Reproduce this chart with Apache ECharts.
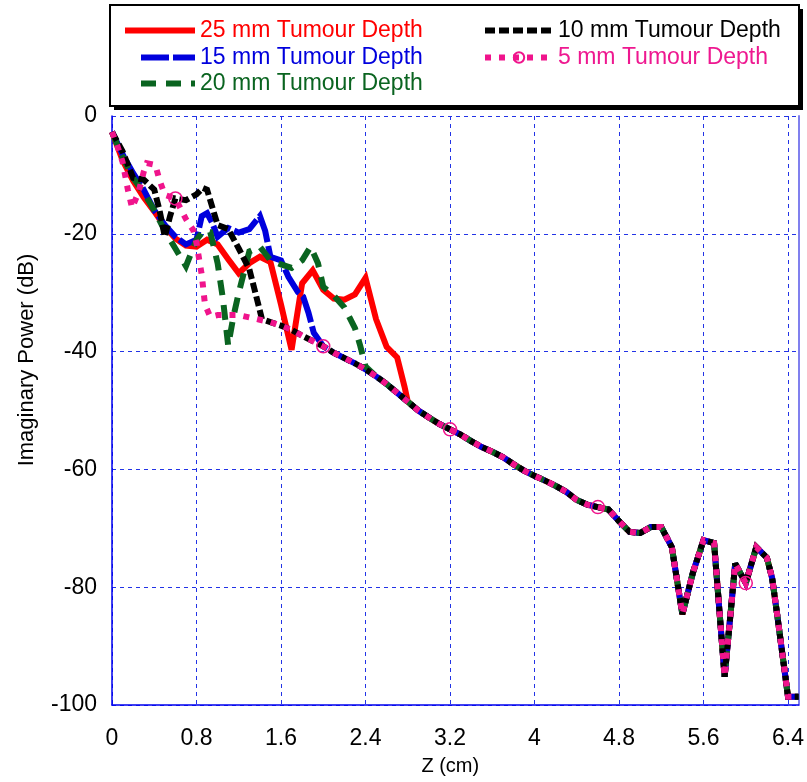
<!DOCTYPE html>
<html><head><meta charset="utf-8">
<script src="https://cdn.jsdelivr.net/npm/echarts@6/dist/echarts.min.js"></script>
<style>html,body{margin:0;padding:0;background:#fff}#c{width:807px;height:782px}</style>
</head><body><div id="c"></div>
<script>
const FONT = '"Liberation Sans", Arial, sans-serif';
const seriesNames = ['25 mm Tumour Depth', '15 mm Tumour Depth', '20 mm Tumour Depth', '10 mm Tumour Depth', '5 mm Tumour Depth'];
const xTickLabels = ['0', '0.8', '1.6', '2.4', '3.2', '4', '4.8', '5.6', '6.4'];
const yTickLabels = ['-100', '-80', '-60', '-40', '-20', '0'];

// common (converged) curve
const baseZ  = [0.9, 1.0, 1.1, 1.2, 1.3, 1.4, 1.5, 1.6, 1.7, 1.8, 1.9, 2.0, 2.1, 2.2, 2.3, 2.4, 2.5, 2.6, 2.7, 2.8, 2.9, 3.0, 3.1, 3.2, 3.3, 3.4, 3.5, 3.6, 3.7, 3.8, 3.9, 4.0, 4.1, 4.2, 4.3, 4.4, 4.5, 4.6, 4.7, 4.8, 4.9, 5.0, 5.1, 5.2, 5.3, 5.4, 5.5, 5.6, 5.7, 5.8, 5.9, 6.0, 6.1, 6.2, 6.25, 6.3, 6.4, 6.5];
const baseDb = [-34.3, -33.8, -33.8, -33.8, -34.2, -34.6, -35.0, -35.6, -36.3, -37.3, -38.2, -39.1, -40.2, -41.1, -42.0, -43.0, -44.2, -45.5, -47.0, -48.5, -50.0, -51.2, -52.3, -53.2, -54.1, -55.2, -56.2, -57.0, -57.9, -59.1, -60.2, -61.1, -61.9, -62.8, -63.8, -65.2, -66.0, -66.4, -66.8, -68.8, -70.6, -70.8, -69.8, -69.8, -73.2, -84.6, -77.5, -72.0, -72.5, -95.2, -76.0, -79.3, -73.2, -75.0, -78.5, -85.0, -98.6, -98.6];

// individual early parts
const z25  = [0, 0.1, 0.2, 0.3, 0.4, 0.5, 0.6, 0.7, 0.8, 0.9, 1.0, 1.1, 1.2, 1.3, 1.4, 1.5, 1.6, 1.7, 1.8, 1.9, 2.0, 2.1, 2.2, 2.3, 2.4, 2.5, 2.6, 2.7, 2.77];
const db25 = [-2.7, -7.5, -11, -13.8, -16.2, -18.8, -20.8, -22, -22.2, -21, -21.8, -24.3, -26.7, -25, -23.9, -24.8, -32, -39.7, -28.4, -26.2, -29.5, -31, -31.2, -30.3, -27.5, -34.5, -39.2, -41, -46];

const z15  = [0, 0.1, 0.2, 0.3, 0.4, 0.5, 0.6, 0.7, 0.8, 0.85, 0.9, 0.95, 1.0, 1.1, 1.2, 1.3, 1.4, 1.45, 1.5, 1.6, 1.67, 1.76, 1.81, 1.86, 1.91];
const db15 = [-2.7, -6.5, -9.7, -12.5, -16, -18.5, -20.5, -21.8, -21, -17, -16.5, -18.2, -20.5, -19, -19.8, -19.2, -17, -19.5, -23.9, -24.5, -27.3, -29.9, -30.7, -33.4, -36.8];

const z20  = [0, 0.1, 0.2, 0.3, 0.4, 0.5, 0.6, 0.7, 0.8, 0.87, 0.93, 1.0, 1.05, 1.1, 1.15, 1.2, 1.3, 1.4, 1.5, 1.6, 1.7, 1.8, 1.88, 1.95, 2.0, 2.1, 2.2, 2.3, 2.35, 2.4];
const db20 = [-2.7, -7, -10.5, -13, -16, -19.5, -22.5, -25.5, -21, -19.4, -19.7, -25, -31, -39, -34, -30, -23, -22.2, -24.5, -25.2, -25.8, -24.5, -22.2, -25, -29, -30.5, -32.5, -36, -39, -42.5];

const z10  = [0, 0.1, 0.2, 0.3, 0.4, 0.45, 0.5, 0.55, 0.6, 0.7, 0.8, 0.86, 0.9, 0.95, 1.0, 1.1, 1.2, 1.3, 1.35, 1.42];
const db10 = [-2.7, -6, -10.5, -10.8, -12.5, -16, -20.5, -17, -14, -14.3, -13.3, -12.2, -12.5, -15.5, -18.5, -19.2, -22.5, -26, -29.5, -34.5];

const z5   = [0, 0.05, 0.1, 0.15, 0.19, 0.25, 0.3, 0.33, 0.41, 0.45, 0.5, 0.6, 0.7, 0.77, 0.8, 0.85, 0.88, 0.93];
const db5  = [-2.7, -5, -7.8, -12.5, -15.6, -13, -9.5, -8, -8.3, -10.9, -13.4, -14, -17.5, -19.4, -21.6, -27, -32, -34.1];
const markerZ5 = [0.6, 2.0, 3.2, 4.6, 6.0];

function build(hz, hd) {
  const out = [];
  for (let i = 0; i < hz.length; i++) out.push([hz[i], hd[i]]);
  const last = hz[hz.length - 1];
  for (let i = 0; i < baseZ.length; i++) if (baseZ[i] > last + 1e-9) out.push([baseZ[i], baseDb[i]]);
  return out;
}

const colors = ['#ff0000', '#0000dd', '#0a6420', '#000000', '#f0148c'];
const textColors = ['#ff0000', '#0000dd', '#0a6420', '#000000', '#ee1890'];
const dashes = ['solid', [28, 4], [15, 10], [10, 4], [6, 8]];
const widths = [6, 6, 6, 6, 6];

const pinkData = build(z5, db5).map(p => {
  const mk = markerZ5.some(m => Math.abs(m - p[0]) < 1e-6);
  return mk ? { value: p } : { value: p, symbol: 'none' };
});

const dataSets = [build(z25, db25), build(z15, db15), build(z20, db20), build(z10, db10), pinkData];

const series = dataSets.map((d, i) => {
  const s = { name: seriesNames[i], type: 'line', data: d,
    lineStyle: { color: colors[i], width: widths[i], type: dashes[i], cap: 'butt', join: 'miter', miterLimit: 3 } };
  if (i === 4) {
    s.symbol = 'circle'; s.symbolSize = 13; s.showAllSymbol = true;
    s.itemStyle = { color: 'rgba(255,255,255,0)', borderColor: colors[4], borderWidth: 1.5 };
  } else {
    s.symbol = 'none'; s.showSymbol = false;
    s.itemStyle = { color: colors[i] };
  }
  return s;
});

function lg(i, left, top, w) {
  const o = { data: [seriesNames[i]], left: left, top: top, orient: 'horizontal', padding: 0,
    itemWidth: w, itemHeight: 13, selectedMode: false,
    lineStyle: { color: colors[i], width: 6, type: dashes[i], cap: 'butt' },
    textStyle: { color: textColors[i], fontSize: 23, fontFamily: FONT } };
  if (i !== 4) o.itemStyle = { opacity: 0 };
  return o;
}

const chart = echarts.init(document.getElementById('c'), null, { renderer: 'canvas' });
chart.setOption({
  animation: false,
  backgroundColor: '#fff',
  grid: { left: 112, right: 8, top: 116, bottom: 77 },
  legend: [
    lg(0, 122, 19, 70),
    lg(1, 138, 46, 54),
    lg(2, 138, 72, 54),
    lg(3, 482, 19, 68),
    lg(4, 482, 46, 68)
  ],
  graphic: [
    { type: 'rect', z: 0, shape: { x: 114, y: 9, width: 689, height: 101 }, style: { fill: '#000' } },
    { type: 'rect', z: 1, shape: { x: 110, y: 5, width: 689, height: 101 },
      style: { fill: '#fff', stroke: '#000', lineWidth: 2 } },
    { type: 'text', x: 27, y: 360, rotation: Math.PI / 2,
      style: { text: 'Imaginary Power (dB)', fontSize: 22, fontFamily: FONT, fill: '#000', align: 'center', verticalAlign: 'middle' } }
  ],
  xAxis: {
    type: 'value', min: 0, max: 6.5, interval: 0.8,
    name: 'Z (cm)', nameLocation: 'middle', nameGap: 51,
    nameTextStyle: { fontSize: 20, fontFamily: FONT, color: '#000', padding: [0, 10, 0, 0] },
    axisLine: { show: true, onZero: false, lineStyle: { color: '#0000ee', width: 1.5 } },
    axisTick: { show: false },
    axisLabel: { showMaxLabel: false, fontSize: 23, fontFamily: FONT, color: '#000', margin: 22,
      formatter: v => xTickLabels[Math.round(v / 0.8)] || '' },
    splitLine: { show: true, lineStyle: { color: '#2233e6', type: [4, 4], width: 1 } }
  },
  yAxis: [{
    type: 'value', min: -100, max: 0, interval: 20,
    axisLine: { show: true, onZero: false, lineStyle: { color: '#0000ee', width: 1.5 } },
    axisTick: { show: false },
    axisLabel: { fontSize: 23, fontFamily: FONT, color: '#000', margin: 15,
      formatter: v => yTickLabels[Math.round((v + 100) / 20)] || '' },
    splitLine: { show: true, lineStyle: { color: '#2233e6', type: [4, 4], width: 1 } }
  }, {
    type: 'value', min: -100, max: 0, interval: 20, position: 'right',
    axisLine: { show: true, onZero: false, lineStyle: { color: '#8080ee', width: 2 } },
    axisTick: { show: false }, axisLabel: { show: false }, splitLine: { show: false }
  }],
  series: series
});
</script>
</body></html>
